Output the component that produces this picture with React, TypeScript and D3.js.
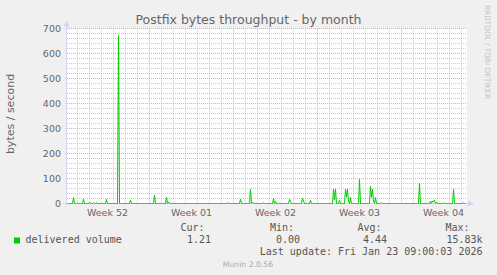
import React from "react";
import * as d3 from "d3";

const W = 497;
const H = 275;

const title = "Postfix bytes throughput - by month";
const yLabel = "bytes / second";
const seriesName = "delivered volume";
const yTicks = [0, 100, 200, 300, 400, 500, 600, 700];
const timeStart = "2025-12-21T03:00:00Z";
const timeEnd = "2026-01-23T11:00:00Z";
const dataStart = "2025-12-21T04:00:00Z";
const dataEnd = "2026-01-23T08:00:00Z";

const spikeTimes = [
  "2025-12-21T16:00:00Z", "2025-12-22T12:00:00Z", "2025-12-23T00:00:00Z", "2025-12-23T08:00:00Z",
  "2025-12-23T14:00:00Z", "2025-12-24T10:00:00Z", "2025-12-25T10:00:00Z", "2025-12-26T10:00:00Z",
  "2025-12-28T10:00:00Z", "2025-12-29T10:00:00Z", "2025-12-29T14:00:00Z", "2026-01-03T12:00:00Z",
  "2026-01-04T14:00:00Z", "2026-01-05T10:00:00Z", "2026-01-05T14:00:00Z", "2026-01-06T12:00:00Z",
  "2026-01-07T08:00:00Z", "2026-01-07T12:00:00Z", "2026-01-08T16:00:00Z", "2026-01-08T18:00:00Z",
  "2026-01-09T18:00:00Z", "2026-01-09T20:00:00Z", "2026-01-10T10:00:00Z", "2026-01-12T08:00:00Z",
  "2026-01-12T10:00:00Z", "2026-01-12T12:00:00Z", "2026-01-12T20:00:00Z", "2026-01-13T08:00:00Z",
  "2026-01-13T10:00:00Z", "2026-01-13T12:00:00Z", "2026-01-13T14:00:00Z", "2026-01-13T18:00:00Z",
  "2026-01-14T12:00:00Z", "2026-01-15T10:00:00Z", "2026-01-15T12:00:00Z", "2026-01-15T14:00:00Z",
  "2026-01-15T16:00:00Z", "2026-01-15T20:00:00Z", "2026-01-16T08:00:00Z", "2026-01-19T12:00:00Z",
  "2026-01-20T10:00:00Z", "2026-01-20T14:00:00Z", "2026-01-20T16:00:00Z", "2026-01-20T18:00:00Z",
  "2026-01-20T22:00:00Z", "2026-01-21T14:00:00Z", "2026-01-22T08:00:00Z", "2026-01-23T04:00:00Z",
];
const spikeValues = [
  24, 17, 5, 4,
  4, 17, 672, 13,
  34, 24, 6, 5,
  18, 57, 5, 3,
  20, 8, 17, 8,
  20, 10, 13, 57,
  15, 57, 13, 57,
  25, 57, 8, 24,
  97, 69, 25, 57,
  10, 24, 4, 82,
  10, 10, 6, 14,
  5, 4, 57, 4,
];

const statLabels = ["Cur:", "Min:", "Avg:", "Max:"];
const statValues = ["1.21", "0.00", "4.44", "15.83k"];
const lastUpdate = "Last update: Fri Jan 23 09:00:03 2026";
const watermark = "RRDTOOL / TOBI OETIKER";
const footer = "Munin 2.0.56";

const SANS = "'DejaVu Sans', sans-serif";
const MONO = "'DejaVu Sans Mono', monospace";
const FONT_COLOR = "#666666";
const AXIS_COLOR = "#CFD6F8";
const LINE_COLOR = "#00CC00";

export default function App() {
  const x = d3.scaleUtc().domain([new Date(timeStart), new Date(timeEnd)]).range([67, 467]);
  const y = d3.scaleLinear().domain([0, 700]).range([203.5, 28.5]);

  const spikeMap = new Map<number, number>();
  spikeTimes.forEach((t, i) => spikeMap.set(+new Date(t), spikeValues[i]));
  const times = d3.utcHour.every(2)!.range(new Date(dataStart), new Date(+new Date(dataEnd) + 1));
  const series = times.map((t) => ({ t, v: spikeMap.get(+t) ?? 0 }));

  const line = d3
    .line<{ t: Date; v: number }>()
    .x((d) => x(d.t))
    .y((d) => y(d.v));

  const [d0, d1] = x.domain();
  const days = d3.utcDay.range(d0, d1);
  const weeks = d3.utcSunday.range(d0, d1);
  const weekKeys = new Set(weeks.map((d) => +d));
  const minorY = d3.range(0, 701, 20).filter((v) => v % 100 !== 0);
  const weekStarts = d3.utcSunday.range(d3.utcSunday.floor(d0), d1);
  const weekLabels = weekStarts
    .map((s) => new Date(+s + 3.5 * 86400000))
    .filter((m) => m >= d0 && m <= d1);
  const fmtWeek = d3.utcFormat("%V");

  const statLabelX = [180.5, 270, 357.5, 445.5];
  const statValueEnd = [211, 300, 387, 482.5];

  return (
    <svg width={W} height={H} style={{ display: "block", position: "absolute", left: 0, top: 0 }}>
      <rect x={0} y={0} width={W} height={H} fill="#F0F0F0" />
      <rect x={67} y={28.5} width={400} height={175} fill="#FFFFFF" />

      {/* minor horizontal grid */}
      {minorY.map((v) => (
        <line key={"mh" + v} x1={67} x2={467} y1={y(v)} y2={y(v)} stroke="#C8C8C8" strokeDasharray="1,1" />
      ))}
      {/* minor vertical grid */}
      {days
        .filter((d) => !weekKeys.has(+d))
        .map((d) => (
          <line key={"mv" + +d} x1={x(d)} x2={x(d)} y1={28.5} y2={203.5} stroke="#C8C8C8" strokeDasharray="1,1" />
        ))}
      {/* major horizontal grid */}
      {yTicks.map((v) => (
        <line key={"Mh" + v} x1={67} x2={467} y1={y(v)} y2={y(v)} stroke="#EEA0A0" strokeDasharray="1,1" />
      ))}
      {/* major vertical grid */}
      {weeks.map((d) => (
        <line key={"Mv" + +d} x1={x(d)} x2={x(d)} y1={28.5} y2={203.5} stroke="#EEA0A0" strokeDasharray="1,1" />
      ))}

      {/* axes */}
      <line x1={66.5} x2={66.5} y1={206} y2={25} stroke={AXIS_COLOR} />
      <line x1={63} x2={469} y1={203.5} y2={203.5} stroke={AXIS_COLOR} />
      <path d="M63.5,26.5 L66.5,20.5 L69.5,26.5 Z" fill={AXIS_COLOR} />
      <path d="M468,200.5 L474,203.5 L468,206.5 Z" fill={AXIS_COLOR} />

      {/* y tick labels */}
      {yTicks.map((v) => (
        <text key={"yl" + v} x={61} y={y(v) + 3.4} textAnchor="end" fontFamily={SANS} fontSize={9.5} fill={FONT_COLOR}>
          {v}
        </text>
      ))}

      {/* x labels */}
      {weekLabels.map((m) => (
        <text key={"wl" + +m} x={x(m)} y={216} textAnchor="middle" fontFamily={SANS} fontSize={9.5} fill={FONT_COLOR}>
          {"Week " + fmtWeek(m)}
        </text>
      ))}

      {/* data line */}
      <path d={line(series) || ""} fill="none" stroke={LINE_COLOR} strokeWidth={1} />

      {/* title */}
      <text x={248.5} y={24} textAnchor="middle" fontFamily={SANS} fontSize={12.5} fill={FONT_COLOR}>
        {title}
      </text>

      {/* y axis label */}
      <text
        transform="translate(14,114) rotate(-90)"
        textAnchor="middle"
        fontFamily={SANS}
        fontSize={11}
        fill={FONT_COLOR}
      >
        {yLabel}
      </text>

      {/* watermark */}
      <text transform="translate(485,5) rotate(90)" fontFamily={SANS} fontSize={7.3} fill="#C4C4C4">
        {watermark}
      </text>

      {/* legend */}
      <rect x={14} y={237.5} width={6} height={6} fill={LINE_COLOR} />
      <text x={25.5} y={243} fontFamily={MONO} fontSize={10} fill="#555555">
        {seriesName}
      </text>
      {statLabels.map((s, i) => (
        <text key={"sl" + i} x={statLabelX[i]} y={230.5} fontFamily={MONO} fontSize={10} fill="#555555">
          {s}
        </text>
      ))}
      {statValues.map((s, i) => (
        <text key={"sv" + i} x={statValueEnd[i]} y={243} textAnchor="end" fontFamily={MONO} fontSize={10} fill="#555555">
          {s}
        </text>
      ))}
      <text x={482.5} y={255} textAnchor="end" fontFamily={MONO} fontSize={10} fill="#555555">
        {lastUpdate}
      </text>
      <text x={248} y={266.5} textAnchor="middle" fontFamily={SANS} fontSize={7.7} fill="#AAAAAA">
        {footer}
      </text>
    </svg>
  );
}
